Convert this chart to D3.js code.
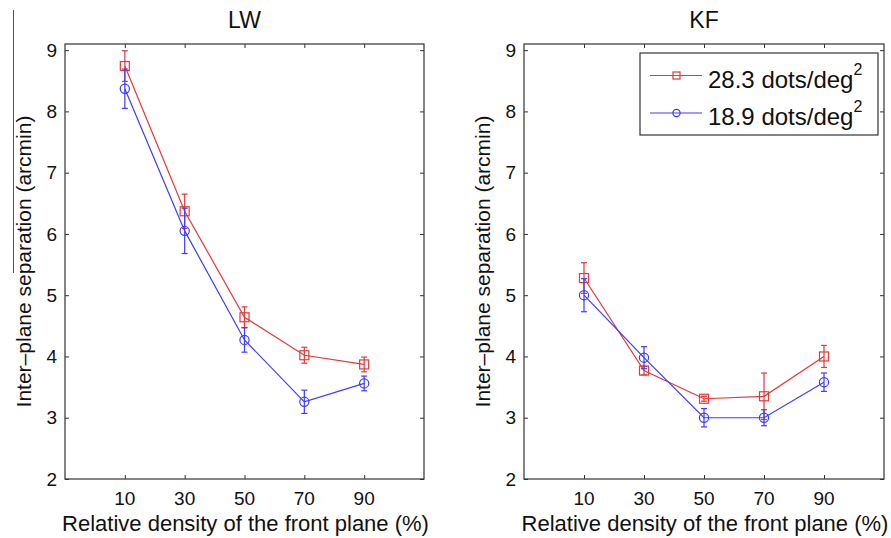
<!DOCTYPE html>
<html>
<head>
<meta charset="utf-8">
<script src="https://cdn.jsdelivr.net/npm/d3@7"></script>
<style>
  body { margin: 0; background: #fff; }
  svg { font-family: "Liberation Sans", Arial, Helvetica, sans-serif; }
</style>
</head>
<body>
<div id="chart"></div>
<script>
// data
const density = [10, 30, 50, 70, 90];
const yTicks = [2, 3, 4, 5, 6, 7, 8, 9];
const seriesNames = ['28.3 dots/deg', '18.9 dots/deg'];

const lwHigh = [8.74, 6.37, 4.64, 4.02, 3.87];
const lwHighErr = [0.25, 0.28, 0.17, 0.13, 0.12];
const lwLow = [8.37, 6.05, 4.27, 3.26, 3.56];
const lwLowErr = [0.32, 0.37, 0.20, 0.19, 0.12];

const kfHigh = [5.28, 3.77, 3.31, 3.35, 4.00];
const kfHighErr = [0.25, 0.07, 0.04, 0.38, 0.18];
const kfLow = [5.00, 3.98, 3.00, 3.00, 3.58];
const kfLowErr = [0.27, 0.18, 0.15, 0.13, 0.15];

const RED = '#e23a3a', BLUE = '#3c3cff', FRAME = '#333';

const width = 891, height = 538;
const svg = d3.select('#chart').append('svg')
    .attr('width', width).attr('height', height);

// stray line at the left edge of the scan
svg.append('line')
    .attr('x1', 13.5).attr('x2', 13.5).attr('y1', 10).attr('y2', 273)
    .attr('stroke', '#555').attr('stroke-width', 1);

function panel(left, right, title, hi, hiErr, lo, loErr, withLegend){
    const top = 44, bottom = 479;
    const x = d3.scaleLinear([-10, 110], [left, right]);
    const y = d3.scaleLinear([2, 9.1], [bottom, top]);
    const g = svg.append('g');

    // frame
    g.append('rect')
        .attr('x', left).attr('y', top)
        .attr('width', right - left).attr('height', bottom - top)
        .attr('fill', 'none').attr('stroke', FRAME).attr('stroke-width', 1.2);

    // inward ticks on all four sides
    const tl = 4;
    g.append('g').attr('transform', `translate(0,${bottom})`)
        .call(d3.axisTop(x).tickValues(density).tickSize(tl).tickFormat(''))
        .call(a => a.select('.domain').remove());
    g.append('g').attr('transform', `translate(0,${top})`)
        .call(d3.axisBottom(x).tickValues(density).tickSize(tl).tickFormat(''))
        .call(a => a.select('.domain').remove());
    g.append('g').attr('transform', `translate(${left},0)`)
        .call(d3.axisRight(y).tickValues(yTicks).tickSize(tl).tickFormat(''))
        .call(a => a.select('.domain').remove());
    g.append('g').attr('transform', `translate(${right},0)`)
        .call(d3.axisLeft(y).tickValues(yTicks).tickSize(tl).tickFormat(''))
        .call(a => a.select('.domain').remove());
    g.selectAll('.tick line').attr('stroke', FRAME);

    // tick labels
    g.append('g').selectAll('text').data(density).join('text')
        .attr('x', d => x(d)).attr('y', bottom + 26)
        .attr('text-anchor', 'middle').attr('font-size', 19).attr('fill', '#111')
        .text(d => d);
    g.append('g').selectAll('text').data(yTicks).join('text')
        .attr('x', left - 8).attr('y', d => y(d)).attr('dy', '0.35em')
        .attr('text-anchor', 'end').attr('font-size', 19).attr('fill', '#111')
        .text(d => d);

    // labels
    g.append('text')
        .attr('x', (left + right) / 2).attr('y', 28)
        .attr('text-anchor', 'middle').attr('font-size', 23).attr('fill', '#111')
        .text(title);
    g.append('text')
        .attr('x', (left + right) / 2 + 1).attr('y', 531)
        .attr('text-anchor', 'middle').attr('font-size', 22).attr('fill', '#111')
        .text('Relative density of the front plane (%)');
    g.append('text')
        .attr('transform', `translate(${left - 34},${(top + bottom) / 2})rotate(-90)`)
        .attr('text-anchor', 'middle').attr('font-size', 21).attr('fill', '#111')
        .text('Inter\u2013plane separation (arcmin)');

    const line = d3.line().x(d => x(d[0])).y(d => y(d[1]));

    function series(vals, errs, color, marker){
        const pts = density.map((d, i) => [d, vals[i], errs[i]]);
        const s = g.append('g').attr('stroke', color).attr('fill', 'none').attr('stroke-width', 1.2);
        s.append('path').attr('d', line(pts));
        // error bars
        const eb = s.selectAll('g.err').data(pts).join('g').classed('err', true);
        eb.append('line')
            .attr('x1', d => x(d[0])).attr('x2', d => x(d[0]))
            .attr('y1', d => y(d[1] - d[2])).attr('y2', d => y(d[1] + d[2]));
        eb.append('line')
            .attr('x1', d => x(d[0]) - 3).attr('x2', d => x(d[0]) + 3)
            .attr('y1', d => y(d[1] + d[2])).attr('y2', d => y(d[1] + d[2]));
        eb.append('line')
            .attr('x1', d => x(d[0]) - 3).attr('x2', d => x(d[0]) + 3)
            .attr('y1', d => y(d[1] - d[2])).attr('y2', d => y(d[1] - d[2]));
        // markers
        if (marker === 'square'){
            s.selectAll('rect.m').data(pts).join('rect').classed('m', true)
                .attr('x', d => x(d[0]) - 4.5).attr('y', d => y(d[1]) - 4.5)
                .attr('width', 9).attr('height', 9);
        } else {
            s.selectAll('circle.m').data(pts).join('circle').classed('m', true)
                .attr('cx', d => x(d[0])).attr('cy', d => y(d[1])).attr('r', 4.6);
        }
    }
    series(hi, hiErr, RED, 'square');
    series(lo, loErr, BLUE, 'circle');

    if (withLegend){
        const lg = g.append('g');
        lg.append('rect')
            .attr('x', 640).attr('y', 53).attr('width', 238).attr('height', 82)
            .attr('fill', '#fff').attr('stroke', FRAME).attr('stroke-width', 1.2);
        const rows = [
            {name: seriesNames[0], color: RED, marker: 'square', cy: 75.5},
            {name: seriesNames[1], color: BLUE, marker: 'circle', cy: 113}
        ];
        rows.forEach(r => {
            lg.append('line').attr('x1', 650).attr('x2', 702)
                .attr('y1', r.cy).attr('y2', r.cy)
                .attr('stroke', r.color).attr('stroke-width', 1.2);
            if (r.marker === 'square'){
                lg.append('rect').attr('x', 673).attr('y', r.cy - 3.5)
                    .attr('width', 7).attr('height', 7)
                    .attr('fill', 'none').attr('stroke', r.color).attr('stroke-width', 1.2);
            } else {
                lg.append('circle').attr('cx', 676.5).attr('cy', r.cy).attr('r', 3.6)
                    .attr('fill', 'none').attr('stroke', r.color).attr('stroke-width', 1.2);
            }
            const t = lg.append('text').attr('x', 708).attr('y', r.cy + 12)
                .attr('font-size', 24).attr('fill', '#111');
            t.append('tspan').text(r.name);
            t.append('tspan').attr('dy', -13).attr('font-size', 16).text('2');
        });
    }
}

panel(65, 424, 'LW', lwHigh, lwHighErr, lwLow, lwLowErr, false);
panel(524, 884, 'KF', kfHigh, kfHighErr, kfLow, kfLowErr, true);
</script>
</body>
</html>
